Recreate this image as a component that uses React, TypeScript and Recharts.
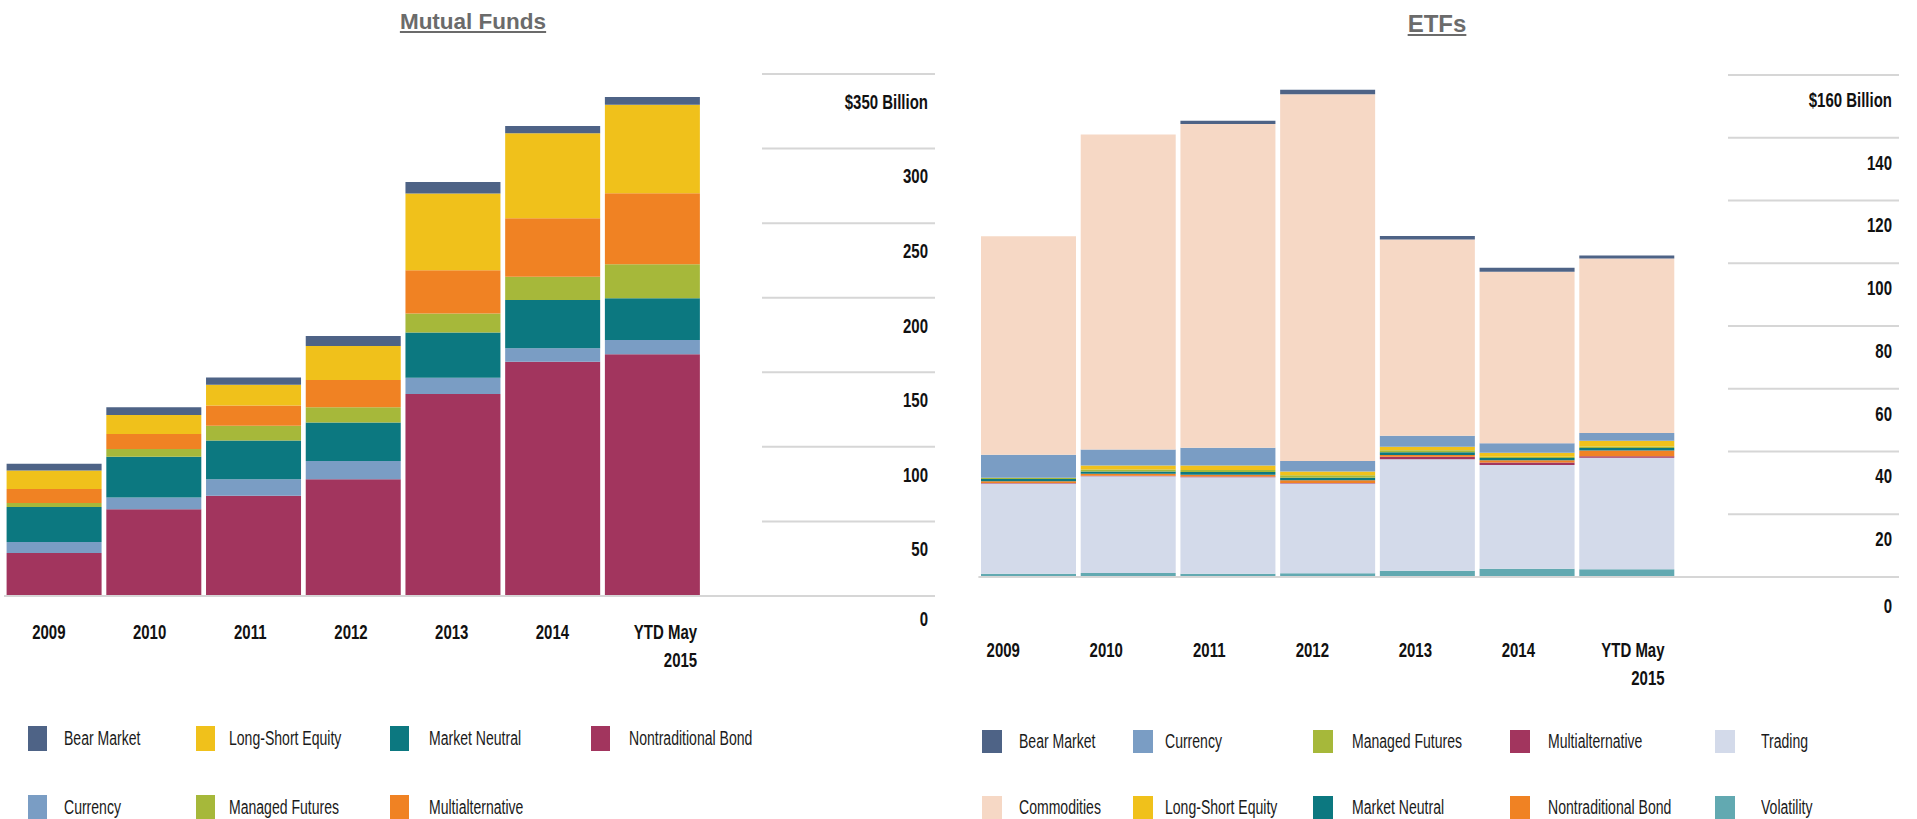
import { Bar, BarChart, XAxis, YAxis } from "recharts";

const years = ["2009", "2010", "2011", "2012", "2013", "2014", "YTD May 2015"];

// Mutual funds, $ billions (bottom of stack first)
const mfNontraditionalBond = [28.8, 58.1, 67.3, 78.2, 135.4, 157.1, 162.1];
const mfCurrency = [7.4, 8.0, 11.0, 12.3, 10.9, 9.0, 9.6];
const mfMarketNeutral = [23.5, 27.2, 25.9, 25.9, 30.4, 32.4, 28.0];
const mfManagedFutures = [2.7, 5.2, 9.9, 10.1, 12.7, 15.6, 22.8];
const mfMultialternative = [9.4, 10.1, 13.6, 18.3, 29.0, 39.2, 47.6];
const mfLongShortEquity = [12.3, 12.7, 13.9, 22.8, 51.4, 57.0, 59.2];
const mfBearMarket = [4.5, 5.2, 4.9, 6.7, 7.8, 4.9, 5.2];
const mfTicks = [0, 50, 100, 150, 200, 250, 300, 350];

// ETFs, $ billions (bottom of stack first)
const etfVolatility = [1.0, 1.3, 1.0, 1.2, 2.0, 2.6, 2.5];
const etfTrading = [28.8, 30.8, 30.8, 28.6, 35.5, 33.1, 35.5];
const etfMultialternative = [0.2, 0.2, 0.2, 0.2, 0.8, 0.8, 0.5];
const etfNontraditionalBond = [0.5, 0.6, 0.6, 0.8, 0.6, 0.7, 1.8];
const etfMarketNeutral = [0.7, 0.7, 0.9, 0.8, 0.9, 0.7, 0.8];
const etfManagedFutures = [0.4, 0.7, 0.6, 0.8, 0.6, 0.4, 0.5];
const etfLongShortEquity = [0, 1.2, 1.4, 1.2, 1.1, 1.3, 1.8];
const etfCurrency = [7.4, 5.1, 5.7, 3.4, 3.5, 3.0, 2.5];
const etfCommodities = [69.6, 100.4, 103.2, 116.9, 62.6, 54.7, 55.6];
const etfBearMarket = [0, 0, 1.05, 1.4, 1.05, 1.3, 0.96];
const etfTicks = [0, 20, 40, 60, 80, 100, 120, 140, 160];

const C = {
  bear: "#4e6386",
  currency: "#7a9dc4",
  neutral: "#0c7880",
  crimson: "#a2355e",
  yellow: "#f0c11b",
  green: "#a6b83a",
  orange: "#f08223",
  commodities: "#f6d8c5",
  trading: "#d3daea",
  volatility: "#62a9b1",
};

type Series = { key: string; name: string; color: string; values: number[] };

const mfSeries: Series[] = [
  { key: "nb", name: "Nontraditional Bond", color: C.crimson, values: mfNontraditionalBond },
  { key: "cur", name: "Currency", color: C.currency, values: mfCurrency },
  { key: "mn", name: "Market Neutral", color: C.neutral, values: mfMarketNeutral },
  { key: "mf", name: "Managed Futures", color: C.green, values: mfManagedFutures },
  { key: "ma", name: "Multialternative", color: C.orange, values: mfMultialternative },
  { key: "lse", name: "Long-Short Equity", color: C.yellow, values: mfLongShortEquity },
  { key: "bear", name: "Bear Market", color: C.bear, values: mfBearMarket },
];

const etfSeries: Series[] = [
  { key: "vol", name: "Volatility", color: C.volatility, values: etfVolatility },
  { key: "tr", name: "Trading", color: C.trading, values: etfTrading },
  { key: "ma", name: "Multialternative", color: C.crimson, values: etfMultialternative },
  { key: "nb", name: "Nontraditional Bond", color: C.orange, values: etfNontraditionalBond },
  { key: "mn", name: "Market Neutral", color: C.neutral, values: etfMarketNeutral },
  { key: "mf", name: "Managed Futures", color: C.green, values: etfManagedFutures },
  { key: "lse", name: "Long-Short Equity", color: C.yellow, values: etfLongShortEquity },
  { key: "cur", name: "Currency", color: C.currency, values: etfCurrency },
  { key: "com", name: "Commodities", color: C.commodities, values: etfCommodities },
  { key: "bear", name: "Bear Market", color: C.bear, values: etfBearMarket },
];

// legend columns, top row then bottom row
const mfLegend = [
  ["Bear Market", "Currency"],
  ["Long-Short Equity", "Managed Futures"],
  ["Market Neutral", "Multialternative"],
  ["Nontraditional Bond"],
];
const etfLegend = [
  ["Bear Market", "Commodities"],
  ["Currency", "Long-Short Equity"],
  ["Managed Futures", "Market Neutral"],
  ["Multialternative", "Nontraditional Bond"],
  ["Trading", "Volatility"],
];

const toRows = (series: Series[]) =>
  years.map((year, i) => {
    const row: Record<string, string | number> = { year };
    series.forEach((s) => (row[s.key] = s.values[i]));
    return row;
  });

const FONT = "'Liberation Sans', Arial, sans-serif";
const SQUEEZE = 0.75;

// bold, condensed label (no narrow face installed, so squeeze Liberation Sans)
function Label({ x, y, anchor, children }: any) {
  return (
    <text transform={`translate(${x} ${y}) scale(${SQUEEZE} 1)`} textAnchor={anchor}
      dominantBaseline="central" fontFamily={FONT} fontWeight={700} fontSize={20} fill="#111">
      {children}
    </text>
  );
}

function YearTick(props: any) {
  const { x, y, payload, index, shift, lastRight, labelDy } = props;
  const words = String(payload.value).split(" ");
  if (words.length > 1) {
    const tx = x + lastRight;
    return (
      <g>
        <Label x={tx} y={y + labelDy} anchor="end">{words.slice(0, -1).join(" ")}</Label>
        <Label x={tx} y={y + labelDy + 28} anchor="end">{words[words.length - 1]}</Label>
      </g>
    );
  }
  return <Label x={x + shift(index)} y={y + labelDy} anchor="middle">{payload.value}</Label>;
}

function GridTick(props: any) {
  const { x, y, payload, plotWidth, lineStart, lineEnd, labelDy, zeroDy, top } = props;
  const v = payload.value;
  return (
    <g>
      <line x1={v === 0 ? x - plotWidth : x + lineStart} x2={x + lineEnd} y1={y} y2={y}
        stroke="#d6d6d6" strokeWidth={2} />
      <Label x={x + lineEnd - 7} y={y + (v === 0 ? zeroDy : labelDy)} anchor="end">
        {v === top ? `$${v} Billion` : v}
      </Label>
    </g>
  );
}

function StackChart(props: any) {
  const { series, ticks, width, marginLeft, marginRight, axisWidth, top, plotBottom,
    lineStart, lineEnd, labelDy, zeroDy, xLabelDy, shift, lastRight } = props;
  const height = 700;
  const plotWidth = width - marginLeft - marginRight - axisWidth;
  const max = ticks[ticks.length - 1];
  return (
    <BarChart width={width} height={height} data={toRows(series)} barCategoryGap={2.6}
      margin={{ top, right: marginRight, bottom: 0, left: marginLeft }}>
      {series.map((s: Series) => (
        <Bar key={s.key} dataKey={s.key} name={s.name} stackId="a" fill={s.color}
          isAnimationActive={false} />
      ))}
      <XAxis dataKey="year" height={height - plotBottom} axisLine={false} tickLine={false}
        tickSize={0} tickMargin={0} interval={0}
        tick={(p: any) => <YearTick {...p} shift={shift} lastRight={lastRight} labelDy={xLabelDy} />} />
      <YAxis orientation="right" width={axisWidth} domain={[0, max]} ticks={ticks} interval={0}
        axisLine={false} tickLine={false} tickSize={0} tickMargin={0}
        tick={(p: any) => (
          <GridTick {...p} plotWidth={plotWidth} lineStart={lineStart} lineEnd={lineEnd}
            labelDy={labelDy} zeroDy={zeroDy} top={max} />
        )} />
    </BarChart>
  );
}

function LegendBlock({ cols, lefts, textLefts, rowTops, sw, sh, series }: any) {
  const colorOf = (name: string) => series.find((s: Series) => s.name === name).color;
  return (
    <>
      {cols.map((col: string[], c: number) =>
        col.map((name, r) => (
          <div key={name}>
            <div style={{ position: "absolute", left: lefts[c], top: rowTops[r], width: sw, height: sh, background: colorOf(name) }} />
            <div style={{ position: "absolute", left: textLefts[c], top: rowTops[r], height: sh, lineHeight: `${sh}px`,
              fontFamily: FONT, fontSize: 19.5, color: "#1a1a1a", whiteSpace: "nowrap",
              transform: "scaleX(0.72)", transformOrigin: "left center" }}>
              {name}
            </div>
          </div>
        ))
      )}
    </>
  );
}

const titleStyle = {
  position: "absolute" as const,
  fontFamily: FONT,
  fontWeight: 700,
  textDecoration: "underline",
  color: "#6b6b6b",
  transform: "translate(-50%, -50%)",
  whiteSpace: "nowrap" as const,
};

export default function App() {
  return (
    <div style={{ position: "absolute", left: 0, top: 0, width: 1917, height: 819, overflow: "hidden", background: "#fff" }}>
      <div style={{ ...titleStyle, left: 473, top: 22, fontSize: 22.5 }}>Mutual Funds</div>
      <div style={{ ...titleStyle, left: 1437, top: 24, fontSize: 24 }}>ETFs</div>

      <div style={{ position: "absolute", left: 0, top: 0 }}>
        <StackChart series={mfSeries} ticks={mfTicks} width={960} marginLeft={4} marginRight={10}
          axisWidth={248} top={74} plotBottom={596} lineStart={60} lineEnd={233} labelDy={28}
          zeroDy={23} xLabelDy={36} shift={(i: number) => Math.min(0, i - 5)} lastRight={45} />
      </div>
      <div style={{ position: "absolute", left: 960, top: 0 }}>
        <StackChart series={etfSeries} ticks={etfTicks} width={957} marginLeft={18.4} marginRight={18}
          axisWidth={222.6} top={75} plotBottom={577} lineStart={51.6} lineEnd={222.6} labelDy={25}
          zeroDy={29} xLabelDy={73} shift={(i: number) => -25 + 3.3 * i} lastRight={38} />
      </div>

      <LegendBlock cols={mfLegend} series={mfSeries} lefts={[28, 196, 390, 591]}
        textLefts={[64, 229, 429, 629]} rowTops={[726, 795]} sw={19} sh={25} />
      <LegendBlock cols={etfLegend} series={etfSeries} lefts={[982, 1133, 1313, 1510, 1715]}
        textLefts={[1019, 1165, 1352, 1548, 1761]} rowTops={[730, 796]} sw={20} sh={23} />
    </div>
  );
}
